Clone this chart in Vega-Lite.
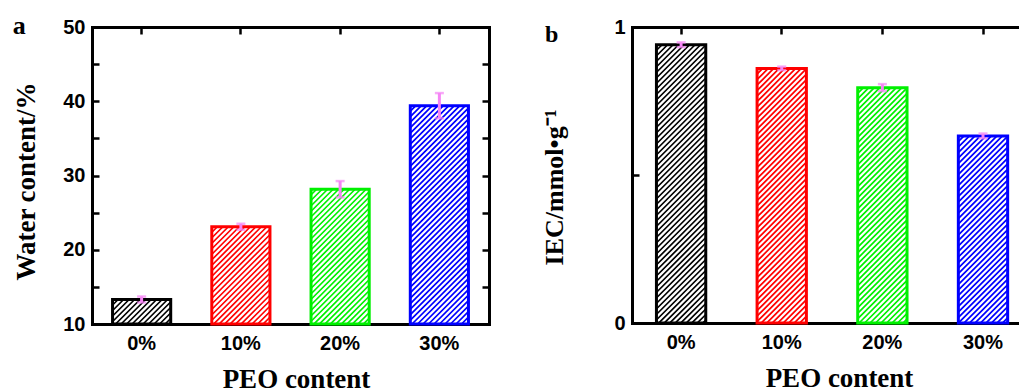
{
  "$schema": "https://vega.github.io/schema/vega-lite/v6.json",
  "background": "white",
  "padding": {"left": 12, "top": 13, "right": 0, "bottom": 0},
  "spacing": 50,
  "resolve": {"scale": {"shape": "independent", "stroke": "independent"}},
  "config": {
    "view": {"stroke": null},
    "axis": {
      "domainColor": "black", "domainWidth": 3, "domainCap": "square",
      "tickColor": "black", "tickWidth": 2.5, "tickSize": -7,
      "labelFont": "Liberation Sans", "labelFontSize": 20, "labelFontWeight": "bold", "labelColor": "black",
      "titleFont": "Liberation Serif", "titleFontSize": 27, "titleFontWeight": "bold", "titleColor": "black",
      "grid": false
    }
  },
  "hconcat": [
    {
      "width": 397, "height": 297,
      "title": {"text": "a", "anchor": "start", "frame": "bounds", "font": "Liberation Serif", "fontSize": 26, "fontWeight": "bold", "color": "black", "baseline": "alphabetic", "offset": -35, "dy": 8},
      "data": {"values": [
        {"peo": "0%", "water": 13.3, "err": 0.4},
        {"peo": "10%", "water": 23.1, "err": 0.4},
        {"peo": "20%", "water": 28.15, "err": 1.1},
        {"peo": "30%", "water": 39.4, "err": 1.7}
      ]},
      "layer": [
        {
          "mark": {"type": "bar", "strokeWidth": 3, "fill": "white"},
          "encoding": {
            "x": {"field": "peo", "type": "nominal", "sort": null,
              "scale": {"paddingInner": 0.414, "paddingOuter": 0.207},
              "axis": {"orient": "bottom", "labelAngle": 0, "labelPadding": 16, "title": "PEO content", "titlePadding": 13, "titleX": 204}},
            "y": {"field": "water", "type": "quantitative",
              "scale": {"domain": [10, 50], "nice": false, "zero": false},
              "axis": {"orient": "left", "values": [10, 15, 20, 25, 30, 35, 40, 45, 50],
                "labelExpr": "datum.value % 10 === 0 ? datum.label : ''",
                "labelPadding": 14, "title": "Water content/%", "titlePadding": 22, "titleY": 154,
                "encode": {"ticks": {"update": {"x2": {"signal": "datum.value % 10 === 0 ? 7 : 4"}}}}}},
            "y2": {"datum": 10},
            "stroke": {"field": "peo", "type": "nominal", "sort": null,
              "scale": {"domain": ["0%", "10%", "20%", "30%"], "range": ["#000000", "#ff0000", "#00f000", "#0000ff"]}, "legend": null}
          }
        },
        {
          "mark": {"type": "point", "filled": false, "strokeWidth": 1.7, "size": 4, "opacity": 1},
          "encoding": {
            "x": {"field": "peo", "type": "nominal", "sort": null, "axis": null},
            "y": {"field": "water", "type": "quantitative", "axis": null},
            "shape": {"field": "peo", "type": "nominal", "sort": null, "legend": null,
              "scale": {"domain": ["0%", "10%", "20%", "30%"], "range": [
                "M-29 5.5 l5.5 -5.5 m-5.5 11 l11 -11 m-11 16.5 l16.5 -16.5 m-16.5 22 l22 -22 m-19 24.5 l24.5 -24.5 m-19 24.5 l24.5 -24.5 m-19 24.5 l24.5 -24.5 m-19 24.5 l24.5 -24.5 m-19 24.5 l24.5 -24.5 m-19 24.5 l24.5 -24.5 m-19 24.5 l22 -22 m-16.5 22 l16.5 -16.5 m-11 16.5 l11 -11 m-5.5 11 l5.5 -5.5",
                "M-29 5.5 l5.5 -5.5 M-29 11 l11 -11 M-29 16.5 l16.5 -16.5 M-29 22 l22 -22 M-29 27.5 l27.5 -27.5 M-29 33 l33 -33 M-29 38.5 l38.5 -38.5 M-29 44 l44 -44 M-29 49.5 l49.5 -49.5 M-29 55 l55 -55 M-29 60.5 l58 -58 M-29 66 l58 -58 M-29 71.5 l58 -58 M-29 77 l58 -58 M-29 82.5 l58 -58 M-29 88 l58 -58 M-29 93.5 l58 -58 M-27.3 97.3 l56.3 -56.3 M-21.8 97.3 l50.8 -50.8 M-16.3 97.3 l45.3 -45.3 M-10.8 97.3 l39.8 -39.8 M-5.3 97.3 l34.3 -34.3 M0.2 97.3 l28.8 -28.8 M5.7 97.3 l23.3 -23.3 M11.2 97.3 l17.8 -17.8 M16.7 97.3 l12.3 -12.3 M22.2 97.3 l6.8 -6.8 M27.7 97.3 l1.3 -1.3",
                "M-29 5.5 l5.5 -5.5 M-29 11 l11 -11 M-29 16.5 l16.5 -16.5 M-29 22 l22 -22 M-29 27.5 l27.5 -27.5 M-29 33 l33 -33 M-29 38.5 l38.5 -38.5 M-29 44 l44 -44 M-29 49.5 l49.5 -49.5 M-29 55 l55 -55 M-29 60.5 l58 -58 M-29 66 l58 -58 M-29 71.5 l58 -58 M-29 77 l58 -58 M-29 82.5 l58 -58 M-29 88 l58 -58 M-29 93.5 l58 -58 M-29 99 l58 -58 M-29 104.5 l58 -58 M-29 110 l58 -58 M-29 115.5 l58 -58 M-29 121 l58 -58 M-29 126.5 l58 -58 M-29 132 l58 -58 M-26.3 134.8 l55.3 -55.3 M-20.8 134.8 l49.8 -49.8 M-15.3 134.8 l44.3 -44.3 M-9.8 134.8 l38.8 -38.8 M-4.3 134.8 l33.3 -33.3 M1.2 134.8 l27.8 -27.8 M6.7 134.8 l22.3 -22.3 M12.2 134.8 l16.8 -16.8 M17.7 134.8 l11.3 -11.3 M23.2 134.8 l5.8 -5.8",
                "M-29 5.5 l5.5 -5.5 M-29 11 l11 -11 M-29 16.5 l16.5 -16.5 M-29 22 l22 -22 M-29 27.5 l27.5 -27.5 M-29 33 l33 -33 M-29 38.5 l38.5 -38.5 M-29 44 l44 -44 M-29 49.5 l49.5 -49.5 M-29 55 l55 -55 M-29 60.5 l58 -58 M-29 66 l58 -58 M-29 71.5 l58 -58 M-29 77 l58 -58 M-29 82.5 l58 -58 M-29 88 l58 -58 M-29 93.5 l58 -58 M-29 99 l58 -58 M-29 104.5 l58 -58 M-29 110 l58 -58 M-29 115.5 l58 -58 M-29 121 l58 -58 M-29 126.5 l58 -58 M-29 132 l58 -58 M-29 137.5 l58 -58 M-29 143 l58 -58 M-29 148.5 l58 -58 M-29 154 l58 -58 M-29 159.5 l58 -58 M-29 165 l58 -58 M-29 170.5 l58 -58 M-29 176 l58 -58 M-29 181.5 l58 -58 M-29 187 l58 -58 M-29 192.5 l58 -58 M-29 198 l58 -58 M-29 203.5 l58 -58 M-29 209 l58 -58 M-29 214.5 l58 -58 M-27.3 218.3 l56.3 -56.3 M-21.8 218.3 l50.8 -50.8 M-16.3 218.3 l45.3 -45.3 M-10.8 218.3 l39.8 -39.8 M-5.3 218.3 l34.3 -34.3 M0.2 218.3 l28.8 -28.8 M5.7 218.3 l23.3 -23.3 M11.2 218.3 l17.8 -17.8 M16.7 218.3 l12.3 -12.3 M22.2 218.3 l6.8 -6.8 M27.7 218.3 l1.3 -1.3"
              ]}},
            "stroke": {"field": "peo", "type": "nominal", "sort": null,
              "scale": {"domain": ["0%", "10%", "20%", "30%"], "range": ["#000000", "#ff0000", "#00f000", "#0000ff"]}, "legend": null}
          }
        },
        {
          "mark": {"type": "errorbar", "ticks": {"size": 9, "thickness": 2.5}, "thickness": 3, "color": "#f584f5"},
          "encoding": {
            "x": {"field": "peo", "type": "nominal", "sort": null, "axis": {"orient": "top", "labels": false, "title": null}},
            "y": {"field": "water", "type": "quantitative",
              "axis": {"orient": "right", "labels": false, "title": null, "values": [10, 15, 20, 25, 30, 35, 40, 45, 50],
                "encode": {"ticks": {"update": {"x2": {"signal": "datum.value % 10 === 0 ? -7 : -4"}}}}}},
            "yError": {"field": "err"}
          }
        }
      ],
      "resolve": {"axis": {"x": "independent", "y": "independent"}}
    },
    {
      "width": 393, "height": 296,
      "title": {"text": "b", "anchor": "start", "frame": "bounds", "font": "Liberation Serif", "fontSize": 24, "fontWeight": "bold", "color": "black", "baseline": "alphabetic", "offset": -33, "dy": 16, "dx": 3},
      "data": {"values": [
        {"peo": "0%", "iec": 0.94, "err": 0.008},
        {"peo": "10%", "iec": 0.86, "err": 0.006},
        {"peo": "20%", "iec": 0.795, "err": 0.012},
        {"peo": "30%", "iec": 0.632, "err": 0.008}
      ]},
      "layer": [
        {
          "mark": {"type": "bar", "strokeWidth": 3, "fill": "white"},
          "encoding": {
            "x": {"field": "peo", "type": "nominal", "sort": null,
              "scale": {"paddingInner": 0.51, "paddingOuter": 0.2076, "align": 0.585},
              "axis": {"orient": "bottom", "labelAngle": 0, "labelPadding": 16, "title": "PEO content", "titlePadding": 13, "titleX": 207}},
            "y": {"field": "iec", "type": "quantitative",
              "scale": {"domain": [0, 1], "nice": false},
              "axis": {"orient": "left", "values": [0, 0.5, 1],
                "labelExpr": "datum.value === 0.5 ? '' : (datum.value === 0 ? '0' : '1')",
                "labelPadding": 14, "title": "IEC/mmol•g⁻¹", "titleFontSize": 26, "titlePadding": 46, "titleY": 160,
                "encode": {"ticks": {"update": {"x2": {"signal": "datum.value === 0.5 ? 4 : 7"}}}}}},
            "stroke": {"field": "peo", "type": "nominal", "sort": null,
              "scale": {"domain": ["0%", "10%", "20%", "30%"], "range": ["#000000", "#ff0000", "#00f000", "#0000ff"]}, "legend": null}
          }
        },
        {
          "mark": {"type": "point", "filled": false, "strokeWidth": 1.7, "size": 4, "opacity": 1},
          "encoding": {
            "x": {"field": "peo", "type": "nominal", "sort": null, "axis": null},
            "y": {"field": "iec", "type": "quantitative", "axis": null},
            "shape": {"field": "peo", "type": "nominal", "sort": null, "legend": null,
              "scale": {"domain": ["0%", "10%", "20%", "30%"], "range": [
                "M-24.5 5.5 l5.5 -5.5 M-24.5 11 l11 -11 M-24.5 16.5 l16.5 -16.5 M-24.5 22 l22 -22 M-24.5 27.5 l27.5 -27.5 M-24.5 33 l33 -33 M-24.5 38.5 l38.5 -38.5 M-24.5 44 l44 -44 M-24.5 49.5 l49 -49 M-24.5 55 l49 -49 M-24.5 60.5 l49 -49 M-24.5 66 l49 -49 M-24.5 71.5 l49 -49 M-24.5 77 l49 -49 M-24.5 82.5 l49 -49 M-24.5 88 l49 -49 M-24.5 93.5 l49 -49 M-24.5 99 l49 -49 M-24.5 104.5 l49 -49 M-24.5 110 l49 -49 M-24.5 115.5 l49 -49 M-24.5 121 l49 -49 M-24.5 126.5 l49 -49 M-24.5 132 l49 -49 M-24.5 137.5 l49 -49 M-24.5 143 l49 -49 M-24.5 148.5 l49 -49 M-24.5 154 l49 -49 M-24.5 159.5 l49 -49 M-24.5 165 l49 -49 M-24.5 170.5 l49 -49 M-24.5 176 l49 -49 M-24.5 181.5 l49 -49 M-24.5 187 l49 -49 M-24.5 192.5 l49 -49 M-24.5 198 l49 -49 M-24.5 203.5 l49 -49 M-24.5 209 l49 -49 M-24.5 214.5 l49 -49 M-24.5 220 l49 -49 M-24.5 225.5 l49 -49 M-24.5 231 l49 -49 M-24.5 236.5 l49 -49 M-24.5 242 l49 -49 M-24.5 247.5 l49 -49 M-24.5 253 l49 -49 M-24.5 258.5 l49 -49 M-24.5 264 l49 -49 M-24.5 269.5 l49 -49 M-24.5 275 l49 -49 M-22.2 278.2 l46.7 -46.7 M-16.7 278.2 l41.2 -41.2 M-11.2 278.2 l35.7 -35.7 M-5.7 278.2 l30.2 -30.2 M-0.2 278.2 l24.7 -24.7 M5.3 278.2 l19.2 -19.2 M10.8 278.2 l13.7 -13.7 M16.3 278.2 l8.2 -8.2 M21.8 278.2 l2.7 -2.7",
                "M-24.5 5.5 l5.5 -5.5 M-24.5 11 l11 -11 M-24.5 16.5 l16.5 -16.5 M-24.5 22 l22 -22 M-24.5 27.5 l27.5 -27.5 M-24.5 33 l33 -33 M-24.5 38.5 l38.5 -38.5 M-24.5 44 l44 -44 M-24.5 49.5 l49 -49 M-24.5 55 l49 -49 M-24.5 60.5 l49 -49 M-24.5 66 l49 -49 M-24.5 71.5 l49 -49 M-24.5 77 l49 -49 M-24.5 82.5 l49 -49 M-24.5 88 l49 -49 M-24.5 93.5 l49 -49 M-24.5 99 l49 -49 M-24.5 104.5 l49 -49 M-24.5 110 l49 -49 M-24.5 115.5 l49 -49 M-24.5 121 l49 -49 M-24.5 126.5 l49 -49 M-24.5 132 l49 -49 M-24.5 137.5 l49 -49 M-24.5 143 l49 -49 M-24.5 148.5 l49 -49 M-24.5 154 l49 -49 M-24.5 159.5 l49 -49 M-24.5 165 l49 -49 M-24.5 170.5 l49 -49 M-24.5 176 l49 -49 M-24.5 181.5 l49 -49 M-24.5 187 l49 -49 M-24.5 192.5 l49 -49 M-24.5 198 l49 -49 M-24.5 203.5 l49 -49 M-24.5 209 l49 -49 M-24.5 214.5 l49 -49 M-24.5 220 l49 -49 M-24.5 225.5 l49 -49 M-24.5 231 l49 -49 M-24.5 236.5 l49 -49 M-24.5 242 l49 -49 M-24.5 247.5 l49 -49 M-24.5 253 l49 -49 M-20.6 254.6 l45.1 -45.1 M-15.1 254.6 l39.6 -39.6 M-9.6 254.6 l34.1 -34.1 M-4.1 254.6 l28.6 -28.6 M1.4 254.6 l23.1 -23.1 M6.9 254.6 l17.6 -17.6 M12.4 254.6 l12.1 -12.1 M17.9 254.6 l6.6 -6.6 M23.4 254.6 l1.1 -1.1",
                "M-24.5 5.5 l5.5 -5.5 M-24.5 11 l11 -11 M-24.5 16.5 l16.5 -16.5 M-24.5 22 l22 -22 M-24.5 27.5 l27.5 -27.5 M-24.5 33 l33 -33 M-24.5 38.5 l38.5 -38.5 M-24.5 44 l44 -44 M-24.5 49.5 l49 -49 M-24.5 55 l49 -49 M-24.5 60.5 l49 -49 M-24.5 66 l49 -49 M-24.5 71.5 l49 -49 M-24.5 77 l49 -49 M-24.5 82.5 l49 -49 M-24.5 88 l49 -49 M-24.5 93.5 l49 -49 M-24.5 99 l49 -49 M-24.5 104.5 l49 -49 M-24.5 110 l49 -49 M-24.5 115.5 l49 -49 M-24.5 121 l49 -49 M-24.5 126.5 l49 -49 M-24.5 132 l49 -49 M-24.5 137.5 l49 -49 M-24.5 143 l49 -49 M-24.5 148.5 l49 -49 M-24.5 154 l49 -49 M-24.5 159.5 l49 -49 M-24.5 165 l49 -49 M-24.5 170.5 l49 -49 M-24.5 176 l49 -49 M-24.5 181.5 l49 -49 M-24.5 187 l49 -49 M-24.5 192.5 l49 -49 M-24.5 198 l49 -49 M-24.5 203.5 l49 -49 M-24.5 209 l49 -49 M-24.5 214.5 l49 -49 M-24.5 220 l49 -49 M-24.5 225.5 l49 -49 M-24.5 231 l49 -49 M-23.3 235.3 l47.8 -47.8 M-17.8 235.3 l42.3 -42.3 M-12.3 235.3 l36.8 -36.8 M-6.8 235.3 l31.3 -31.3 M-1.3 235.3 l25.8 -25.8 M4.2 235.3 l20.3 -20.3 M9.7 235.3 l14.8 -14.8 M15.2 235.3 l9.3 -9.3 M20.7 235.3 l3.8 -3.8",
                "M-24.5 5.5 l5.5 -5.5 M-24.5 11 l11 -11 M-24.5 16.5 l16.5 -16.5 M-24.5 22 l22 -22 M-24.5 27.5 l27.5 -27.5 M-24.5 33 l33 -33 M-24.5 38.5 l38.5 -38.5 M-24.5 44 l44 -44 M-24.5 49.5 l49 -49 M-24.5 55 l49 -49 M-24.5 60.5 l49 -49 M-24.5 66 l49 -49 M-24.5 71.5 l49 -49 M-24.5 77 l49 -49 M-24.5 82.5 l49 -49 M-24.5 88 l49 -49 M-24.5 93.5 l49 -49 M-24.5 99 l49 -49 M-24.5 104.5 l49 -49 M-24.5 110 l49 -49 M-24.5 115.5 l49 -49 M-24.5 121 l49 -49 M-24.5 126.5 l49 -49 M-24.5 132 l49 -49 M-24.5 137.5 l49 -49 M-24.5 143 l49 -49 M-24.5 148.5 l49 -49 M-24.5 154 l49 -49 M-24.5 159.5 l49 -49 M-24.5 165 l49 -49 M-24.5 170.5 l49 -49 M-24.5 176 l49 -49 M-24.5 181.5 l49 -49 M-24.5 187 l49 -49 M-19.1 187.1 l43.6 -43.6 M-13.6 187.1 l38.1 -38.1 M-8.1 187.1 l32.6 -32.6 M-2.6 187.1 l27.1 -27.1 M2.9 187.1 l21.6 -21.6 M8.4 187.1 l16.1 -16.1 M13.9 187.1 l10.6 -10.6 M19.4 187.1 l5.1 -5.1"
              ]}},
            "stroke": {"field": "peo", "type": "nominal", "sort": null,
              "scale": {"domain": ["0%", "10%", "20%", "30%"], "range": ["#000000", "#ff0000", "#00f000", "#0000ff"]}, "legend": null}
          }
        },
        {
          "mark": {"type": "errorbar", "ticks": {"size": 9, "thickness": 2.5}, "thickness": 3, "color": "#f584f5"},
          "encoding": {
            "x": {"field": "peo", "type": "nominal", "sort": null, "axis": {"orient": "top", "labels": false, "title": null}},
            "y": {"field": "iec", "type": "quantitative", "axis": null},
            "yError": {"field": "err"}
          }
        }
      ],
      "resolve": {"axis": {"x": "independent", "y": "independent"}}
    }
  ]
}
